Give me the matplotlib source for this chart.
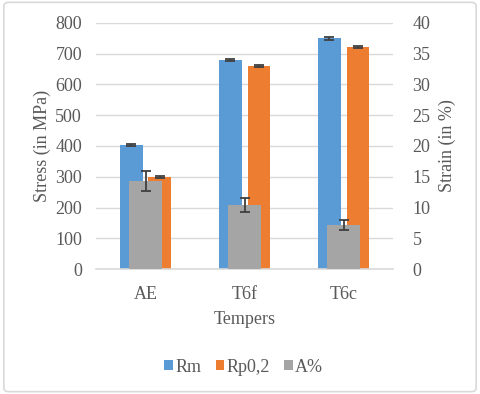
import numpy as np
import matplotlib
matplotlib.use("Agg")
from matplotlib import pyplot as plt
from matplotlib.patches import FancyBboxPatch

tempers = ["AE", "T6f", "T6c"]
rm = [403, 680, 750]
rm_err = [4, 4, 5]
rp02 = [299, 661, 722]
rp02_err = [3, 3, 3]
strain = [14.3, 10.4, 7.2]
strain_err = [1.6, 1.2, 0.8]

C_BLUE = "#5b9bd5"
C_ORANGE = "#ed7d31"
C_GRAY = "#a5a5a5"
C_TEXT = "#595959"
C_ERR = "#404040"

plt.rcParams["font.family"] = ["Liberation Serif", "DejaVu Serif"]

fig = plt.figure(figsize=(4.8, 3.94), dpi=100)
fig.patches.append(FancyBboxPatch((0.008, 0.006), 0.984, 0.988, boxstyle="round,pad=0,rounding_size=0.01",
                                  transform=fig.transFigure, fill=False, edgecolor="#d9d9d9", linewidth=1.2))

ax = fig.add_axes([0.2, 0.317, 0.619, 0.625])
x = np.arange(len(tempers))
w = 0.23
err_kw = dict(ecolor=C_ERR, capsize=3.5, elinewidth=1.3, capthick=1.3)

# stress bars
ax.bar(x - 0.145, rm, w, color=C_BLUE, yerr=rm_err, error_kw=err_kw, label="Rm", zorder=2)
ax.bar(x + 0.145, rp02, w, color=C_ORANGE, yerr=rp02_err, error_kw=err_kw, label="Rp0,2", zorder=2)
ax.set_ylim(0, 800)
ax.set_xlim(-0.5, 2.5)
ax.set_yticks(range(0, 801, 100))
ax.yaxis.grid(True, color="#d9d9d9", linewidth=1)
ax.set_axisbelow(True)
for s in ["top", "right", "left"]:
    ax.spines[s].set_visible(False)
ax.spines["bottom"].set_color("#d9d9d9")
ax.spines["bottom"].set_linewidth(1.2)
ax.tick_params(length=0, labelsize=13, colors=C_TEXT, pad=10)
ax.set_xticks(x)
ax.set_xticklabels(tempers)
ax.tick_params(axis="x", pad=12)
ax.set_ylabel("Stress (in MPa)", fontsize=13, color=C_TEXT, labelpad=3)
ax.set_xlabel("Tempers", fontsize=13, color=C_TEXT, labelpad=6)

# strain bars on secondary axis
ax2 = ax.twinx()
ax2.bar(x, strain, 0.33, color=C_GRAY, yerr=strain_err, error_kw=err_kw, label="A%", zorder=3)
ax2.set_ylim(0, 40)
ax2.set_yticks(range(0, 41, 5))
for s in ["top", "right", "left", "bottom"]:
    ax2.spines[s].set_visible(False)
ax2.tick_params(length=0, labelsize=13, colors=C_TEXT, pad=14)
ax2.set_ylabel("Strain (in %)", fontsize=13, color=C_TEXT, labelpad=6)

h1, l1 = ax.get_legend_handles_labels()
h2, l2 = ax2.get_legend_handles_labels()
leg = fig.legend(h1 + h2, l1 + l2, loc="center", bbox_to_anchor=(0.508, 0.068), ncol=3, frameon=False,
                 fontsize=13, handlelength=0.45, handleheight=0.45, handletextpad=0.15, columnspacing=0.8)
for t in leg.get_texts():
    t.set_color(C_TEXT)

fig.savefig("out.png", dpi=100)
